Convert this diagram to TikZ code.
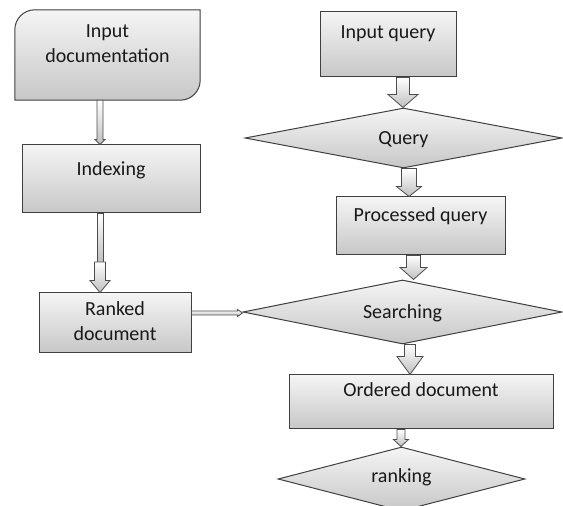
\documentclass[tikz,border=0pt]{standalone}
\usepackage{fontspec}
\setmainfont{Carlito}
\usetikzlibrary{shapes.geometric,calc,backgrounds}

% block arrow going down: from, to, x, shaft half width, head half width, head length
\newcommand{\barrow}[6]{%
  \draw[arrowbody] let \p1=(#1), \p2=(#2) in
    ({#3pt-#4pt},\y1) -- ({#3pt-#4pt},{\y2+#6pt}) -- ({#3pt-#5pt},{\y2+#6pt}) -- (#3pt,\y2)
    -- ({#3pt+#5pt},{\y2+#6pt}) -- ({#3pt+#4pt},{\y2+#6pt}) -- ({#3pt+#4pt},\y1) -- cycle;
}
% block arrow going right: from, to, y, shaft half width, head half width, head length
\newcommand{\hbarrow}[6]{%
  \draw[arrowbody] let \p1=(#1), \p2=(#2) in
    (\x1,{#3pt+#4pt}) -- ({\x2-#6pt},{#3pt+#4pt}) -- ({\x2-#6pt},{#3pt+#5pt}) -- (\x2,#3pt)
    -- ({\x2-#6pt},{#3pt-#5pt}) -- ({\x2-#6pt},{#3pt-#4pt}) -- (\x1,{#3pt-#4pt}) -- cycle;
}

\begin{document}
\begin{tikzpicture}[x=1pt, y=1pt,
    txt/.style={font=\fontsize{20}{25.5}\selectfont, text=black!90, inner sep=0pt, align=center},
    frame/.style={draw=black!75, line width=1pt, top color=white!96!black, bottom color=black!22},
    rect/.style={txt, frame, rectangle},
    dec/.style={txt, frame, diamond, aspect=5},
    arrowbody/.style={draw=black!70, line width=0.8pt, top color=white, bottom color=black!25}]
    \useasboundingbox (0,0) rectangle (563,506);

    % left column
    \node[txt, minimum width=185pt, minimum height=90pt, text height=40pt, text depth=24pt] (inp) at (107.5,451) {Input\\documentation};
    \begin{scope}[on background layer]
        \draw[frame] ([yshift=-20pt]inp.north west) arc[start angle=180, end angle=90, radius=20pt]
            -- (inp.north east) -- ([yshift=20pt]inp.south east) arc[start angle=0, end angle=-90, radius=20pt]
            -- (inp.south west) -- cycle;
    \end{scope}
    \node[rect, minimum width=178pt, minimum height=68pt, text height=14pt, text depth=20pt] (idx) at (111,327) {Indexing};
    \node[rect, minimum width=152pt, minimum height=60pt, text height=39pt, text depth=3pt] (rnk) at (115,183) {Ranked\\document};
    \coordinate (rj) at (100,244);

    % right column
    \node[rect, minimum width=136pt, minimum height=65pt, text height=14pt, text depth=25pt] (iq) at (388,461.5) {Input query};
    \node[dec, minimum width=317pt, minimum height=60pt, text height=14pt, text depth=0pt] (qry) at (403.5,368) {Query};
    \node[rect, minimum width=169pt, minimum height=58pt, text height=14pt, text depth=22pt] (pq) at (420.5,280) {Processed query};
    \node[dec, minimum width=319pt, minimum height=64pt, text height=14pt, text depth=0pt] (srch) at (402.5,194) {Searching};
    \node[rect, minimum width=264pt, minimum height=54pt, text height=14pt, text depth=24pt] (ord) at (421,104) {Ordered document};
    \node[dec, minimum width=247pt, minimum height=64pt, text height=14pt, text depth=6pt] (rk) at (401.5,27) {ranking};

    % arrows
    \barrow{inp.south}{idx.north}{100}{3}{5}{5}
    \draw[arrowbody] let \p1=(idx.south), \p2=(rj) in (97pt,\y1) rectangle (103pt,\y2);
    \barrow{rj}{rnk.north}{100}{5.5}{10}{12}
    \hbarrow{rnk.east}{srch.west}{193}{2}{3.5}{5}

    \barrow{iq.south}{qry.north}{403}{6.5}{15}{13}
    \barrow{qry.south}{pq.north}{409}{7.5}{12.5}{10}
    \barrow{pq.south}{srch.north}{413.5}{7}{13.5}{12}
    \barrow{srch.south}{ord.north}{410}{5.5}{13}{18}
    \barrow{ord.south}{rk.north}{401}{4}{7.5}{7}
\end{tikzpicture}
\end{document}
